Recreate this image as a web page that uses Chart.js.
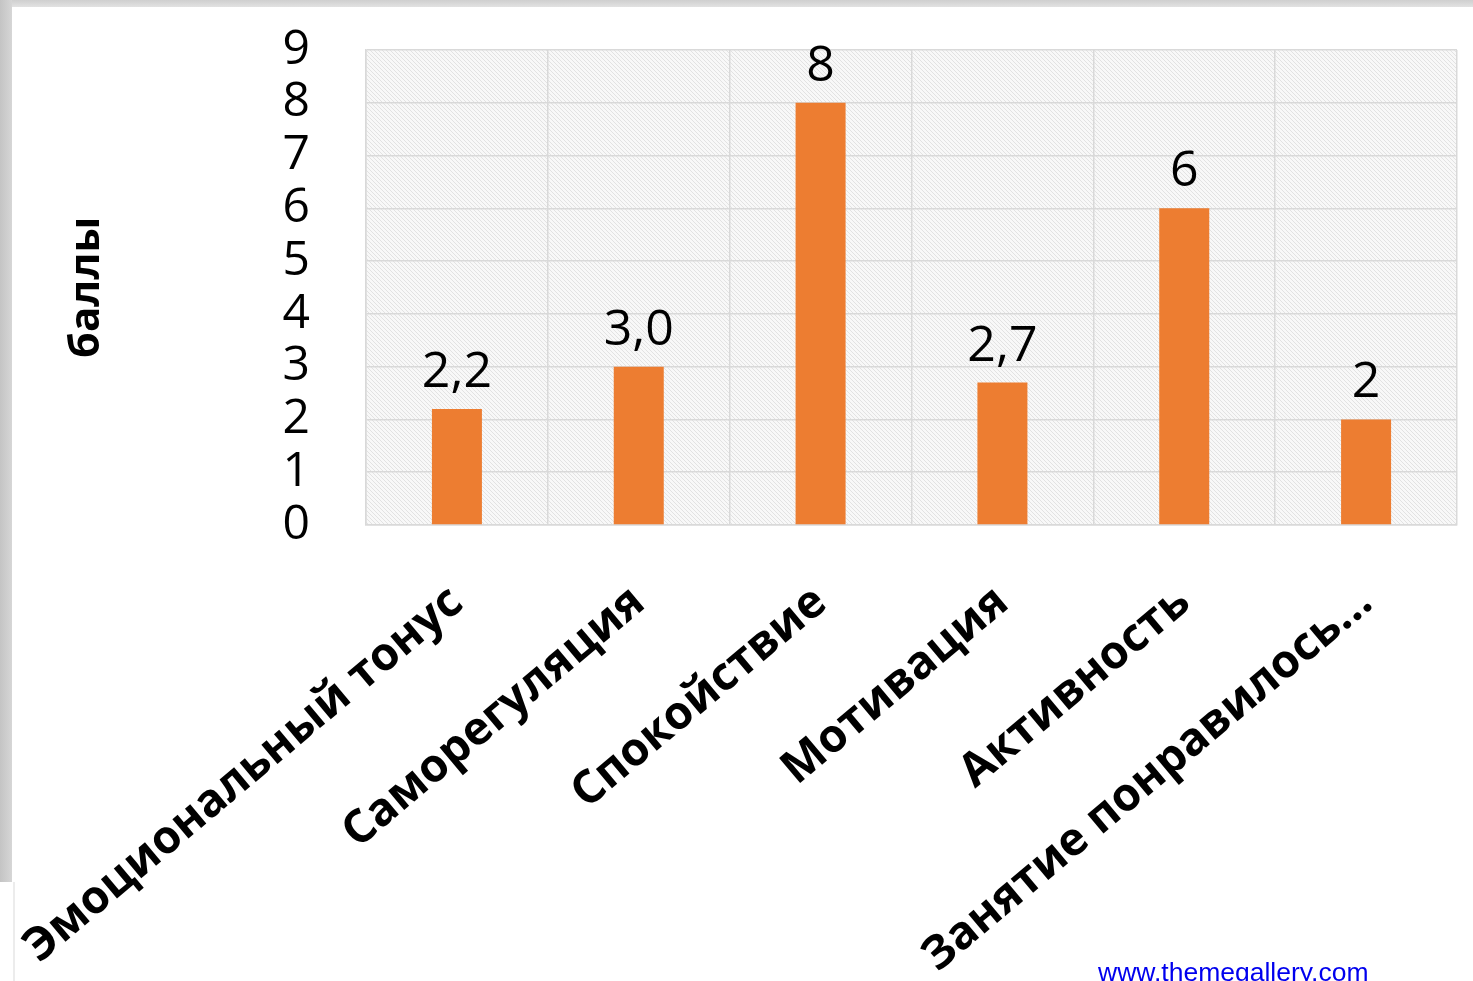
<!DOCTYPE html>
<html>
<head>
<meta charset="utf-8">
<script src="https://cdn.jsdelivr.net/npm/chart.js@4.4.0/dist/chart.umd.min.js"></script>
<style>
  html, body { margin: 0; padding: 0; background: #ffffff; overflow: hidden; }
  #wrap { position: relative; width: 1473px; height: 981px; }
  #topband { position: absolute; left: 0; top: 0; width: 1473px; height: 7px; background: linear-gradient(#cfcfcf, #e2e2e2); }
  #leftband { position: absolute; left: 0; top: 0; width: 12px; height: 882px; background: linear-gradient(90deg, #c4c4c4, #d6d6d6); }
  #leftline { position: absolute; left: 13px; top: 882px; width: 2px; height: 99px; background: #ececec; }
  #url { position: absolute; left: 1098px; top: 957px; font-family: "Liberation Sans", Arial, sans-serif; font-size: 26.5px; color: #0000ee; text-decoration: underline; white-space: nowrap; }
  canvas { position: absolute; left: 0; top: 0; }
</style>
</head>
<body>
<div id="wrap">
  <canvas id="c" width="1473" height="981"></canvas>
  <div id="topband"></div>
  <div id="leftband"></div>
  <div id="leftline"></div>
  <div id="url">www.themegallery.com</div>
</div>
<script>
const categories = ["Эмоциональный тонус", "Саморегуляция", "Спокойствие", "Мотивация", "Активность", "Занятие понравилось..."];
const scores = [2.2, 3.0, 8, 2.7, 6, 2];
const labelDecimals = [1, 1, 0, 1, 0, 0];
const yTicks = [0, 1, 2, 3, 4, 5, 6, 7, 8, 9];
const yTitle = "баллы";

function makeHatch(ctx) {
  const p = document.createElement('canvas');
  p.width = 4; p.height = 4;
  const g = p.getContext('2d');
  g.fillStyle = '#f8f8f8';
  g.fillRect(0, 0, 4, 4);
  g.fillStyle = '#e2e2e2';
  for (let i = 0; i < 4; i++) g.fillRect(i, i, 1, 1);
  return ctx.createPattern(p, 'repeat');
}

const hatchPlugin = {
  id: 'hatch',
  beforeDraw(chart) {
    const a = chart.chartArea;
    const ctx = chart.ctx;
    ctx.save();
    ctx.fillStyle = makeHatch(ctx);
    ctx.fillRect(a.left, a.top, a.right - a.left, a.bottom - a.top);
    ctx.restore();
  }
};

const valueLabelPlugin = {
  id: 'valueLabels',
  afterDatasetsDraw(chart) {
    const ctx = chart.ctx;
    const meta = chart.getDatasetMeta(0);
    ctx.save();
    ctx.font = '50px "Open Sans", sans-serif';
    ctx.fillStyle = '#000000';
    ctx.textAlign = 'center';
    ctx.textBaseline = 'alphabetic';
    meta.data.forEach((bar, i) => {
      const txt = scores[i].toFixed(labelDecimals[i]).replace('.', ',');
      ctx.fillText(txt, bar.x, bar.y - 22);
    });
    ctx.restore();
  }
};

new Chart(document.getElementById('c'), {
  type: 'bar',
  data: {
    labels: categories,
    datasets: [{
      data: scores,
      backgroundColor: '#ED7D31',
      borderWidth: 0,
      barPercentage: 0.55,
      categoryPercentage: 0.5
    }]
  },
  options: {
    responsive: false,
    animation: false,
    devicePixelRatio: 1,
    layout: { padding: { top: 50, right: 16, left: 0, bottom: 0 } },
    plugins: { legend: { display: false }, tooltip: { enabled: false } },
    scales: {
      x: {
        grid: { color: '#d9d9d9', lineWidth: 1.5, drawTicks: false, offset: true },
        border: { color: '#d9d9d9', width: 1.5 },
        ticks: {
          autoSkip: false,
          minRotation: 40,
          maxRotation: 40,
          padding: 50,
          color: '#000000',
          font: { family: '"Open Sans", sans-serif', size: 46, weight: 'bold' }
        },
        afterFit(scale) {
          scale.height = 981 - 525;
          scale.paddingLeft = 0; scale.paddingRight = 0;
          scale.paddingTop = 0; scale.paddingBottom = 0;
        }
      },
      y: {
        min: 0,
        max: 9,
        afterBuildTicks(scale) { scale.ticks = yTicks.map(v => ({ value: v })); },
        grid: { color: '#d9d9d9', lineWidth: 1.5, drawTicks: false },
        border: { color: '#d9d9d9', width: 1.5 },
        ticks: {
          autoSkip: false,
          padding: 56,
          color: '#000000',
          font: { family: '"Open Sans", sans-serif', size: 48, lineHeight: 1 }
        },
        title: {
          display: true,
          text: yTitle,
          color: '#000000',
          padding: { top: 62, bottom: 0 },
          font: { family: '"Open Sans", sans-serif', size: 42, weight: 'bold' }
        },
        afterFit(scale) {
          scale.width = 366;
          scale.paddingTop = 0; scale.paddingBottom = 0;
          scale.paddingLeft = 0; scale.paddingRight = 0;
        }
      }
    }
  },
  plugins: [hatchPlugin, valueLabelPlugin]
});
</script>
</body>
</html>
